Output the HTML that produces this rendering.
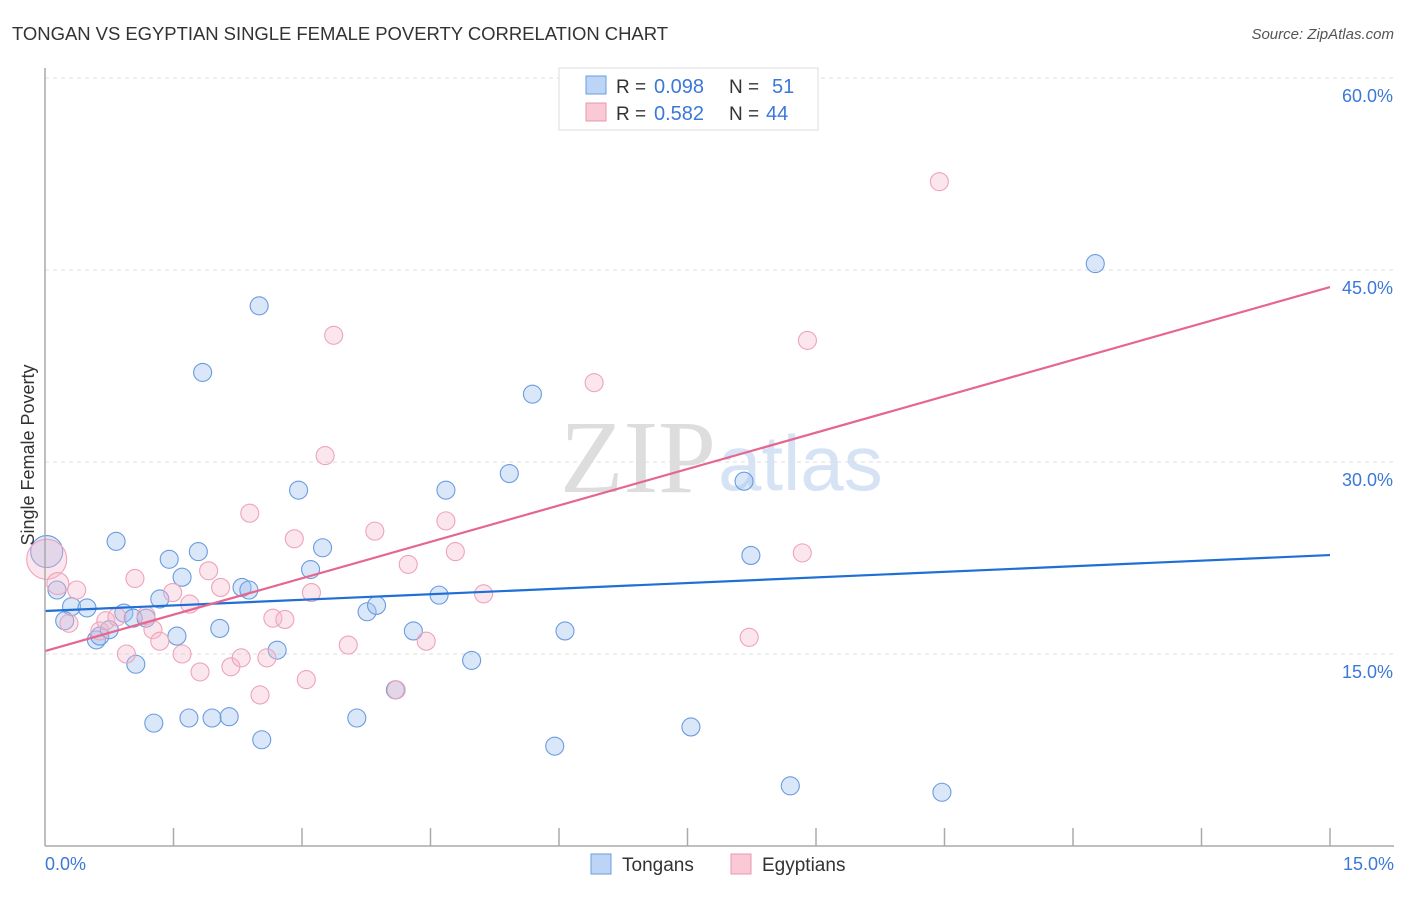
<!DOCTYPE html>
<html><head><meta charset="utf-8"><style>
body{margin:0;background:#fff;font-family:"Liberation Sans",sans-serif}
</style></head><body>
<svg id="c" width="1406" height="892" xmlns="http://www.w3.org/2000/svg">
<text x="12" y="40" font-size="18.5" fill="#333" textLength="656">TONGAN VS EGYPTIAN SINGLE FEMALE POVERTY CORRELATION CHART</text>
<text x="1394" y="39" font-size="15" fill="#555" font-style="italic" text-anchor="end">Source: ZipAtlas.com</text>
<text x="716" y="492" font-size="104" fill="#ddd" font-family="Liberation Serif" text-anchor="end">ZIP</text>
<text x="718" y="490" font-size="78" fill="#d6e3f5">atlas</text>
<g id="grid"></g><g id="pts"></g><g id="lines"></g>
<line x1="45" y1="68" x2="45" y2="846" stroke="#aaa" stroke-width="1.5"/>
<line x1="45" y1="846" x2="1394" y2="846" stroke="#aaa" stroke-width="1.5"/>
<text x="34" y="455" font-size="18" fill="#333" text-anchor="middle" transform="rotate(-90 34 455)">Single Female Poverty</text>
<text x="45" y="870" font-size="18" fill="#3b78d8">0.0%</text>
<text x="1394" y="870" font-size="18" fill="#3b78d8" text-anchor="end">15.0%</text>
<g>
<rect x="559" y="68" width="259" height="62" fill="#fff" stroke="#ddd"/>
<rect x="586" y="76" width="20" height="18" fill="#bcd4f5" stroke="#6a9be0"/>
<rect x="586" y="103" width="20" height="18" fill="#f9c9d6" stroke="#e897ae"/>
<text x="616" y="93" font-size="19" fill="#333">R =</text>
<text x="654" y="93" font-size="20" fill="#3b78d8">0.098</text>
<text x="729" y="93" font-size="19" fill="#333">N =</text>
<text x="772" y="93" font-size="20" fill="#3b78d8">51</text>
<text x="616" y="120" font-size="19" fill="#333">R =</text>
<text x="654" y="120" font-size="20" fill="#3b78d8">0.582</text>
<text x="729" y="120" font-size="19" fill="#333">N =</text>
<text x="766" y="120" font-size="20" fill="#3b78d8">44</text>
</g>
<g>
<rect x="591" y="854" width="20" height="20" fill="#bcd4f5" stroke="#6a9be0"/>
<text x="622" y="871" font-size="19" fill="#333">Tongans</text>
<rect x="731" y="854" width="20" height="20" fill="#f9c9d6" stroke="#e897ae"/>
<text x="762" y="871" font-size="19" fill="#333">Egyptians</text>
</g>
</svg>
<script>
const yTicks=[15,30,45,60];
const yTickLabels=["15.0%","30.0%","45.0%","60.0%"];
const xTicks=[1.5,3,4.5,6,7.5,9,10.5,12,13.5,15];
const tonganX=[0.02,0.14,0.31,0.49,0.23,0.6,0.64,0.75,0.92,1.03,1.18,1.06,0.83,1.27,1.34,1.45,1.54,1.6,1.68,1.79,1.84,1.95,2.04,2.15,2.3,2.38,2.5,2.53,2.71,2.96,3.1,3.24,3.64,3.76,3.87,4.09,4.3,4.6,4.68,4.98,5.42,5.69,5.95,6.07,7.54,8.16,8.24,8.7,10.47,12.26];
const tonganY=[23.0,20.0,18.7,18.6,17.6,16.1,16.4,16.9,18.2,17.8,17.8,14.2,23.8,9.6,19.3,22.4,16.4,21.0,10.0,23.0,37.0,10.0,17.0,10.1,20.2,20.0,42.2,8.3,15.3,27.8,21.6,23.3,10.0,18.3,18.8,12.2,16.8,19.6,27.8,14.5,29.1,35.3,7.8,16.8,9.3,28.5,22.7,4.7,4.2,45.5];
const tonganR=[16,9,9,9,9,9,9,9,9,9,9,9,9,9,9,9,9,9,9,9,9,9,9,9,9,9,9,9,9,9,9,9,9,9,9,9,9,9,9,9,9,9,9,9,9,9,9,9,9,9];
const egyptX=[0.02,0.15,0.28,0.37,0.64,0.71,0.84,0.95,1.05,1.18,1.26,1.34,1.49,1.6,1.69,1.81,1.91,2.05,2.17,2.29,2.39,2.51,2.59,2.66,2.8,2.91,3.05,3.11,3.27,3.37,3.54,3.85,4.1,4.24,4.45,4.68,4.79,5.12,6.41,8.22,8.84,8.9,10.44];
const egyptY=[22.4,20.5,17.4,20.0,16.8,17.6,17.9,15.0,20.9,18.0,16.9,16.0,19.8,15.0,18.9,13.6,21.5,20.2,14.0,14.7,26.0,11.8,14.7,17.8,17.7,24.0,13.0,19.8,30.5,39.9,15.7,24.6,12.2,22.0,16.0,25.4,23.0,19.7,36.2,16.3,22.9,39.5,51.9];
const egyptR=[20,11,9,9,9,9,9,9,9,9,9,9,9,9,9,9,9,9,9,9,9,9,9,9,9,9,9,9,9,9,9,9,9,9,9,9,9,9,9,9,9,9,9];
const tonganTrend=[18.36,22.73];
const egyptTrend=[15.23,43.67];
const NS="http://www.w3.org/2000/svg";
const X=v=>45+v*(1285/15), Y=v=>846-v*12.8;
function mk(t,a,p){const e=document.createElementNS(NS,t);for(const k in a)e.setAttribute(k,a[k]);document.getElementById(p).appendChild(e);return e;}
yTicks.forEach((t,i)=>{
 const l=mk('line',{x1:45,x2:1394,y1:Y(t),y2:Y(t),stroke:'#ddd','stroke-dasharray':'4,4'},'grid');
 
 
 const tx=mk('text',{x:1393,y:Y(t)+24,'font-size':18,fill:'#3b78d8','text-anchor':'end'},'grid');
 tx.textContent=yTickLabels[i];
 
 
});
xTicks.forEach(t=>{
 const l=mk('line',{x1:X(t),x2:X(t),y1:828,y2:846,stroke:'#aaa','stroke-width':1.5},'grid');
 
 
});
tonganX.forEach((v,i)=>{
 const c=mk('circle',{cx:X(v),cy:Y(tonganY[i]),r:tonganR[i],fill:'rgba(160,196,240,0.4)',stroke:'#6a9be0','stroke-width':1.1},'pts');
 
 
});
egyptX.forEach((v,i)=>{
 const c=mk('circle',{cx:X(v),cy:Y(egyptY[i]),r:egyptR[i],fill:'rgba(247,184,203,0.35)',stroke:'#eea3ba','stroke-width':1.1},'pts');
 
 
});
const l1=mk('line',{x1:X(0),y1:Y(tonganTrend[0]),x2:X(15),y2:Y(tonganTrend[1]),stroke:'#1f6fd6','stroke-width':2.2},'lines');


const l2=mk('line',{x1:X(0),y1:Y(egyptTrend[0]),x2:X(15),y2:Y(egyptTrend[1]),stroke:'#e5668f','stroke-width':2.2},'lines');


</script>
</body></html>
